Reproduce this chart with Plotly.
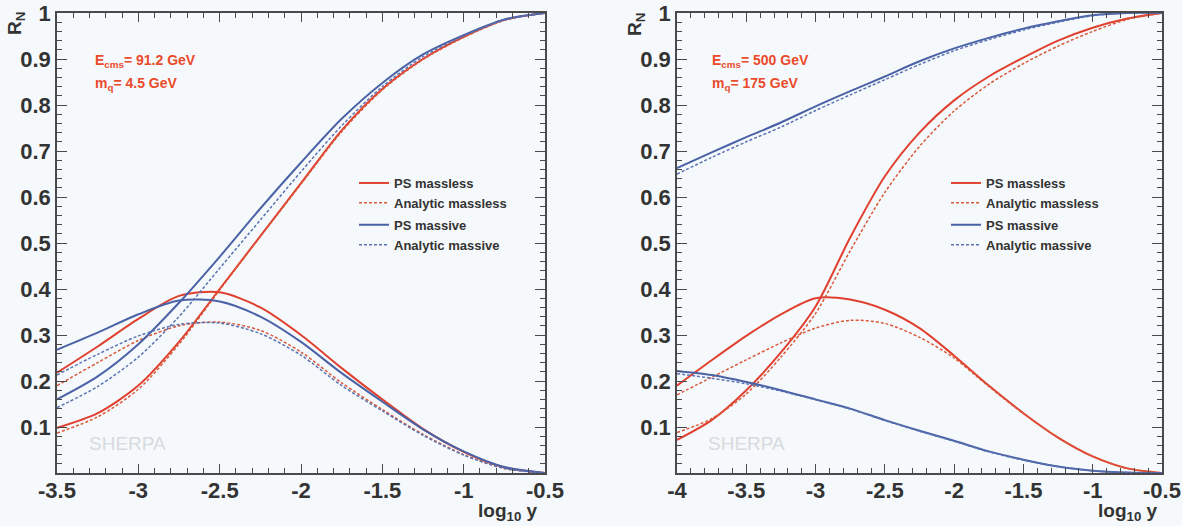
import plotly.graph_objects as go

# ---------------- data ----------------
x_left = [-3.5, -3.25, -3.0, -2.75, -2.5, -2.25, -2.0, -1.75, -1.5, -1.25, -1.0, -0.75, -0.5]

# left panel: E_cms = 91.2 GeV, m_q = 4.5 GeV
r2_ps_massless_l = [0.098, 0.130, 0.190, 0.285, 0.400, 0.515, 0.630, 0.745, 0.835, 0.900, 0.948, 0.985, 1.0]
r2_an_massless_l = [0.087, 0.122, 0.182, 0.280, 0.398, 0.514, 0.628, 0.742, 0.833, 0.899, 0.947, 0.984, 1.0]
r2_ps_massive_l = [0.160, 0.210, 0.280, 0.370, 0.470, 0.575, 0.675, 0.770, 0.848, 0.910, 0.952, 0.986, 1.0]
r2_an_massive_l = [0.142, 0.188, 0.252, 0.340, 0.445, 0.550, 0.655, 0.755, 0.840, 0.905, 0.950, 0.985, 1.0]

r3_ps_massless_l = [0.218, 0.275, 0.335, 0.385, 0.393, 0.360, 0.300, 0.228, 0.160, 0.096, 0.046, 0.012, 0.0]
r3_an_massless_l = [0.190, 0.240, 0.288, 0.320, 0.328, 0.310, 0.263, 0.196, 0.138, 0.084, 0.040, 0.010, 0.0]
r3_ps_massive_l = [0.268, 0.305, 0.345, 0.375, 0.373, 0.340, 0.285, 0.217, 0.155, 0.095, 0.047, 0.013, 0.0]
r3_an_massive_l = [0.213, 0.258, 0.298, 0.323, 0.326, 0.303, 0.256, 0.190, 0.135, 0.082, 0.039, 0.010, 0.0]

x_right = [-4.0, -3.75, -3.5, -3.25, -3.0, -2.75, -2.5, -2.25, -2.0, -1.75, -1.5, -1.25, -1.0, -0.75, -0.5]

# right panel: E_cms = 500 GeV, m_q = 175 GeV
r2_ps_massless_r = [0.072, 0.115, 0.180, 0.262, 0.362, 0.512, 0.645, 0.740, 0.810, 0.862, 0.903, 0.940, 0.968, 0.988, 1.0]
r2_an_massless_r = [0.088, 0.118, 0.172, 0.252, 0.347, 0.483, 0.610, 0.710, 0.787, 0.845, 0.890, 0.928, 0.960, 0.986, 1.0]
r2_ps_massive_r = [0.663, 0.697, 0.730, 0.762, 0.797, 0.830, 0.862, 0.895, 0.923, 0.946, 0.966, 0.982, 0.995, 1.0, 1.0]
r2_an_massive_r = [0.650, 0.686, 0.720, 0.752, 0.788, 0.822, 0.855, 0.888, 0.918, 0.942, 0.963, 0.980, 0.994, 1.0, 1.0]

r3_ps_massless_r = [0.190, 0.245, 0.298, 0.345, 0.380, 0.377, 0.355, 0.315, 0.255, 0.190, 0.130, 0.077, 0.036, 0.010, 0.0]
r3_an_massless_r = [0.170, 0.208, 0.246, 0.283, 0.315, 0.332, 0.325, 0.295, 0.250, 0.188, 0.129, 0.077, 0.036, 0.010, 0.0]
r3_ps_massive_r = [0.222, 0.213, 0.198, 0.180, 0.160, 0.140, 0.115, 0.092, 0.070, 0.047, 0.029, 0.014, 0.005, 0.001, 0.0]
r3_an_massive_r = [0.216, 0.206, 0.194, 0.178, 0.159, 0.139, 0.114, 0.091, 0.069, 0.046, 0.028, 0.014, 0.005, 0.001, 0.0]

series_names = ["PS massless", "Analytic massless", "PS massive", "Analytic massive"]
y_tickvals = [0.1, 0.2, 0.3, 0.4, 0.5, 0.6, 0.7, 0.8, 0.9, 1.0]
y_ticktext = ["0.1", "0.2", "0.3", "0.4", "0.5", "0.6", "0.7", "0.8", "0.9", "1"]
x_tickvals_l = [-3.5, -3.0, -2.5, -2.0, -1.5, -1.0, -0.5]
x_ticktext_l = ["-3.5", "-3", "-2.5", "-2", "-1.5", "-1", "-0.5"]
x_tickvals_r = [-4.0, -3.5, -3.0, -2.5, -2.0, -1.5, -1.0, -0.5]
x_ticktext_r = ["-4", "-3.5", "-3", "-2.5", "-2", "-1.5", "-1", "-0.5"]

# ---------------- styles ----------------
W, H = 1182, 526
BG = "#f6f9fb"
RED = "#e0402f"
RED_D = "#d9583a"
BLUE = "#4a62a6"
BLUE_D = "#5a72b2"
FRAME = "#4a4a4a"
TXT = "#333333"
FONT = "Liberation Sans, Arial, sans-serif"

styles = [
    dict(color=RED, width=2.0, dash="solid"),
    dict(color=RED_D, width=1.5, dash="3px,2px"),
    dict(color=BLUE, width=2.0, dash="solid"),
    dict(color=BLUE_D, width=1.5, dash="3px,2px"),
]
groups = ["massless", "massless", "massive", "massive"]

fig = go.Figure()

panels = [
    ("x", "y", "legend", x_left,
     [r2_ps_massless_l, r2_an_massless_l, r2_ps_massive_l, r2_an_massive_l],
     [r3_ps_massless_l, r3_an_massless_l, r3_ps_massive_l, r3_an_massive_l]),
    ("x2", "y2", "legend2", x_right,
     [r2_ps_massless_r, r2_an_massless_r, r2_ps_massive_r, r2_an_massive_r],
     [r3_ps_massless_r, r3_an_massless_r, r3_ps_massive_r, r3_an_massive_r]),
]

for xa, ya, leg, xs, r2s, r3s in panels:
    for i in range(4):
        for k, ys in enumerate((r2s[i], r3s[i])):
            fig.add_trace(go.Scatter(
                x=xs, y=ys, mode="lines",
                line=dict(shape="spline", smoothing=0.8, **styles[i]),
                name=series_names[i], legendgroup=groups[i] + leg,
                showlegend=(k == 0), legend=leg,
                xaxis=xa, yaxis=ya, hoverinfo="skip",
            ))

def px_x(p):
    return p / W

def px_y(p):
    return 1 - (p - 13) / (H - 13 - 53)

axis_common = dict(
    showline=True, linecolor=FRAME, linewidth=1.5, mirror="allticks",
    ticks="inside", tickcolor=FRAME, tickwidth=1, showgrid=False, zeroline=False,
    tickfont=dict(family=FONT, size=22, color=TXT, weight="bold"),
    tickmode="array", automargin=False,
)

fig.update_layout(
    width=W, height=H,
    margin=dict(l=0, r=0, t=13, b=53, autoexpand=False),
    paper_bgcolor=BG, plot_bgcolor=BG,
    font=dict(family=FONT, color=TXT),
    xaxis=dict(domain=[px_x(57), px_x(545)], range=[-3.5, -0.5],
               tickvals=x_tickvals_l, ticktext=x_ticktext_l, ticklen=9,
               ticklabelstandoff=-3,
               minor=dict(dtick=0.1, tick0=-0.5, ticklen=5, ticks="inside", tickcolor=FRAME),
               anchor="y", **axis_common),
    yaxis=dict(domain=[0, 1], range=[0, 1],
               tickvals=y_tickvals, ticktext=y_ticktext, ticklen=10,
               minor=dict(dtick=0.02, tick0=0, ticklen=5, ticks="inside", tickcolor=FRAME),
               anchor="x", **axis_common),
    xaxis2=dict(domain=[px_x(677), px_x(1162)], range=[-4.0, -0.5],
                tickvals=x_tickvals_r, ticktext=x_ticktext_r, ticklen=9,
                ticklabelstandoff=-3,
                minor=dict(dtick=0.1, tick0=-0.5, ticklen=5, ticks="inside", tickcolor=FRAME),
                anchor="y2", **axis_common),
    yaxis2=dict(domain=[0, 1], range=[0, 1],
                tickvals=y_tickvals, ticktext=y_ticktext, ticklen=10,
                minor=dict(dtick=0.02, tick0=0, ticklen=5, ticks="inside", tickcolor=FRAME),
                anchor="x2", **axis_common),
    legend=dict(x=px_x(354), y=px_y(214), xanchor="left", yanchor="middle",
                bgcolor="rgba(0,0,0,0)", traceorder="grouped", tracegroupgap=2,
                font=dict(family=FONT, size=13, color=TXT, weight="bold"),
                itemwidth=30),
    legend2=dict(x=px_x(946), y=px_y(214), xanchor="left", yanchor="middle",
                 bgcolor="rgba(0,0,0,0)", traceorder="grouped", tracegroupgap=2,
                 font=dict(family=FONT, size=13, color=TXT, weight="bold"),
                 itemwidth=30),
)

ann = []
for x0, e_txt, m_txt, rn_x, lg_x, sh_x in [
    (93, "E<sub>cms</sub>= 91.2 GeV", "m<sub>q</sub>= 4.5 GeV", 16, 540, 127),
    (710, "E<sub>cms</sub>= 500 GeV", "m<sub>q</sub>= 175 GeV", 636, 1160, 746),
]:
    ann.append(dict(x=px_x(x0), y=px_y(61), xref="paper", yref="paper", text=e_txt,
                    showarrow=False, xanchor="left", yanchor="middle",
                    font=dict(family=FONT, size=14, color="#ea4a2c", weight="bold")))
    ann.append(dict(x=px_x(x0), y=px_y(84), xref="paper", yref="paper", text=m_txt,
                    showarrow=False, xanchor="left", yanchor="middle",
                    font=dict(family=FONT, size=14, color="#ea4a2c", weight="bold")))
    ann.append(dict(x=px_x(rn_x), y=px_y(24), xref="paper", yref="paper", text="R<sub>N</sub>",
                    showarrow=False, textangle=-90, xanchor="center", yanchor="middle",
                    font=dict(family=FONT, size=19, color=TXT, weight="bold")))
    ann.append(dict(x=px_x(lg_x), y=px_y(526), xref="paper", yref="paper", text="log<sub>10</sub> y",
                    showarrow=False, xanchor="right", yanchor="bottom",
                    font=dict(family=FONT, size=19, color=TXT, weight="bold")))
    ann.append(dict(x=px_x(sh_x), y=px_y(443), xref="paper", yref="paper", text="SHERPA",
                    showarrow=False, xanchor="center", yanchor="middle",
                    font=dict(family=FONT, size=19, color="#d6dadf")))
fig.update_layout(annotations=ann)

fig.write_html("out.html", config={"displayModeBar": False},
               post_script="document.body.style.margin='0px';")
